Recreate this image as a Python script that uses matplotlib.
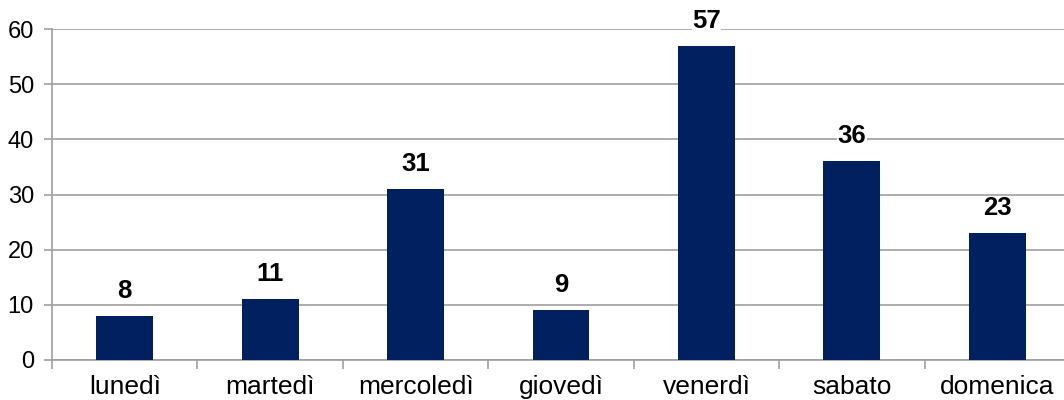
import matplotlib

matplotlib.use("Agg")
import matplotlib.pyplot as plt
import numpy as np

plt.rcParams["font.family"] = ["Liberation Sans", "DejaVu Sans"]

days = ["lunedì", "martedì", "mercoledì", "giovedì", "venerdì", "sabato", "domenica"]
counts = [8, 11, 31, 9, 57, 36, 23]

BAR = "#002060"
GRID = "#a0a0a0"

fig = plt.figure(figsize=(10.64, 4.0), dpi=100)
ax = fig.add_axes([52 / 1064, 0.1, 1018 / 1064, 0.8275])

x = np.arange(len(days))
ax.bar(x, counts, width=0.39, color=BAR, zorder=3)

for xi, v in zip(x, counts):
    ax.annotate(str(v), (xi, v), xytext=(0, 18), textcoords="offset points",
                ha="center", va="center", fontsize=18.5, fontweight="bold",
                bbox=dict(facecolor="white", edgecolor="none", pad=0.3), zorder=4)

ax.set_xlim(-0.5, len(days) - 0.5)
ax.set_ylim(0, 60)
ax.set_yticks(range(0, 61, 10))
ax.yaxis.grid(True, color=GRID, lw=1.2, zorder=0)

ax.set_xticks(x)
ax.set_xticklabels(days)
ax.set_xticks(np.arange(-0.5, len(days), 1.0), minor=True)
ax.tick_params(axis="x", which="major", length=0, pad=11, labelsize=19)
ax.tick_params(axis="x", which="minor", length=6.5, width=1.2, color=GRID)
ax.tick_params(axis="y", length=6, width=1.2, color=GRID, labelsize=17, pad=7)

for side in ("top", "right"):
    ax.spines[side].set_visible(False)
for side in ("left", "bottom"):
    ax.spines[side].set_color(GRID)
    ax.spines[side].set_linewidth(1.2)

fig.savefig("out.png", dpi=100, facecolor="white")
plt.close(fig)
